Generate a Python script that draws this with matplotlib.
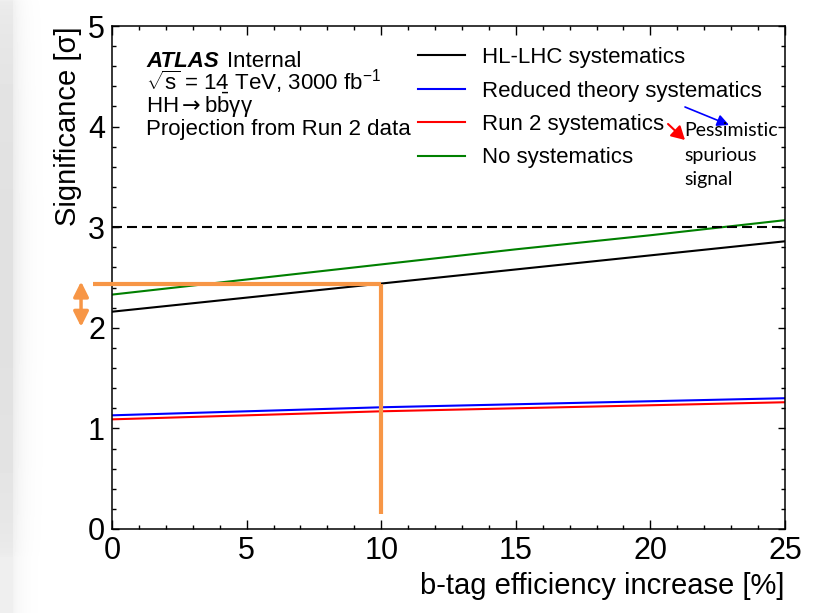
import matplotlib
matplotlib.use('Agg')
import matplotlib.pyplot as plt
import numpy as np

# b-tag efficiency gain [%] and expected significance for each systematics scenario
btag_gain = [0, 5, 10, 15, 20, 25]
hl_lhc_syst = [2.16, 2.30, 2.44, 2.58, 2.72, 2.86]
reduced_theory_syst = [1.13, 1.17, 1.21, 1.24, 1.27, 1.30]
run2_syst = [1.09, 1.13, 1.17, 1.20, 1.23, 1.26]
no_syst = [2.33, 2.48, 2.63, 2.78, 2.92, 3.07]

labels = ["HL-LHC systematics", "Reduced theory systematics",
          "Run 2 systematics", "No systematics"]
colors = ["black", "#0000ff", "#ff0000", "#008000"]

evidence_level = 3.0
ref_gain = 10            # working point picked out in orange
ref_sig = hl_lhc_syst[2]
arrow_span = (2.01, 2.46)

plt.rcParams['font.family'] = ['Liberation Sans', 'DejaVu Sans']
plt.rcParams['mathtext.fontset'] = 'custom'
plt.rcParams['mathtext.rm'] = 'Liberation Sans'
plt.rcParams['mathtext.it'] = 'Liberation Sans:italic'
plt.rcParams['mathtext.sf'] = 'DejaVu Sans'

fig = plt.figure(figsize=(8.19, 6.13), dpi=100)

# soft grey shadow along the left edge
shade = fig.add_axes([0, 0, 50 / 819, 1], zorder=-5)
px = np.arange(50)
py = np.linspace(0, 1, 613)
dx = np.where(px < 13, 0.12, 0.08 * np.exp(-(px - 13) / 10.0))
dy = 0.55 + 0.45 * np.sin(np.pi * np.clip(py * 1.1, 0, 1)) ** 0.4
grey = 1 - np.outer(dy, dx)
shade.imshow(grey, cmap='gray', vmin=0, vmax=1, aspect='auto',
             interpolation='bilinear')
shade.axis('off')

ax = fig.add_axes([112 / 819, 84 / 613, 673 / 819, 503 / 613])

series = [hl_lhc_syst, reduced_theory_syst, run2_syst, no_syst]
for vals, lab, col in zip(series, labels, colors):
    ax.plot(btag_gain, vals, color=col, lw=1.5, label=lab)

ax.axhline(evidence_level, color='black', lw=1.5, ls='--', dashes=(4.8, 2.4))

ax.set_xlim(0, 25)
ax.set_ylim(0, 5)
ax.set_xticks(np.arange(0, 26, 5))
ax.set_xticks(np.arange(0, 26, 1), minor=True)
ax.set_yticks(np.arange(0, 6, 1))
ax.set_yticks(np.arange(0, 5.01, 0.2), minor=True)
ax.tick_params(which='both', direction='in', top=True, right=True,
               labelsize=22, width=1.0)
ax.tick_params(axis='x', which='major', length=6.5, pad=5)
ax.tick_params(axis='x', which='minor', length=3.2)
ax.tick_params(axis='y', which='major', length=5.2, pad=5)
ax.tick_params(axis='y', which='minor', length=3.2)
for sp in ax.spines.values():
    sp.set_linewidth(1.1)

ax.set_xlabel("b-tag efficiency increase [%]", fontsize=21, loc='right')
ax.set_ylabel("Significance [σ]", fontsize=21, loc='top')
ax.xaxis.set_label_coords(1.0, -0.086)
ax.yaxis.set_label_coords(-0.045, 1.0)

# orange guide lines at the chosen working point
orange = '#f79646'
ax.plot([-0.7, ref_gain], [ref_sig, ref_sig], color=orange, lw=3, clip_on=False,
        solid_capstyle='butt', zorder=5)
ax.plot([ref_gain, ref_gain], [ref_sig, 0.15], color=orange, lw=3,
        solid_capstyle='butt', zorder=5)
ax.annotate('', xy=(-1.15, arrow_span[1]), xytext=(-1.15, arrow_span[0]),
            annotation_clip=False,
            arrowprops=dict(arrowstyle='<|-|>,head_length=0.9,head_width=0.45',
                            color=orange, lw=2.5, shrinkA=0, shrinkB=0))

# ATLAS label block
tx = 0.0505
ax.text(tx, 0.919, "ATLAS", transform=ax.transAxes, fontsize=16,
        fontweight='bold', fontstyle='italic', va='baseline')
ax.text(0.1709, 0.919, "Internal", transform=ax.transAxes, fontsize=16,
        va='baseline')
ax.text(tx, 0.8728, r"$\sqrt{\mathrm{s}}$ = 14 TeV, 3000 fb$^{-1}$",
        transform=ax.transAxes, fontsize=16, va='baseline')
ax.text(tx, 0.827, r"HH$\mathsf{\rightarrow}$b$\bar{\mathrm{b}}$γγ",
        transform=ax.transAxes, fontsize=16, va='baseline')
ax.text(tx, 0.7833, "Projection from Run 2 data", transform=ax.transAxes,
        fontsize=16, va='baseline')

ax.legend(loc='upper left', bbox_to_anchor=(0.4547, 0.958), frameon=False,
          fontsize=16, handlelength=2.1, handletextpad=0.8, labelspacing=0.56,
          borderpad=0, borderaxespad=0)

# note on the spurious-signal scenarios
ax.annotate('', xy=(0.9168, 0.8032), xytext=(0.8514, 0.8390),
            xycoords='axes fraction',
            arrowprops=dict(arrowstyle='-|>,head_length=0.7,head_width=0.35',
                            color='#0000ff', lw=1.2, shrinkA=0, shrinkB=0))
ax.annotate('', xy=(0.8514, 0.7734), xytext=(0.8262, 0.8052),
            xycoords='axes fraction',
            arrowprops=dict(arrowstyle='-|>,head_length=0.8,head_width=0.45',
                            color='#ff0000', lw=1.5, shrinkA=0, shrinkB=0))
for i, word in enumerate(["Pessimistic", "spurious", "signal"]):
    ax.text(0.8499, 0.7813 - i * 0.0487, word, transform=ax.transAxes,
            fontsize=14, family='Lato', va='baseline')

fig.savefig('out.png', dpi=100)
